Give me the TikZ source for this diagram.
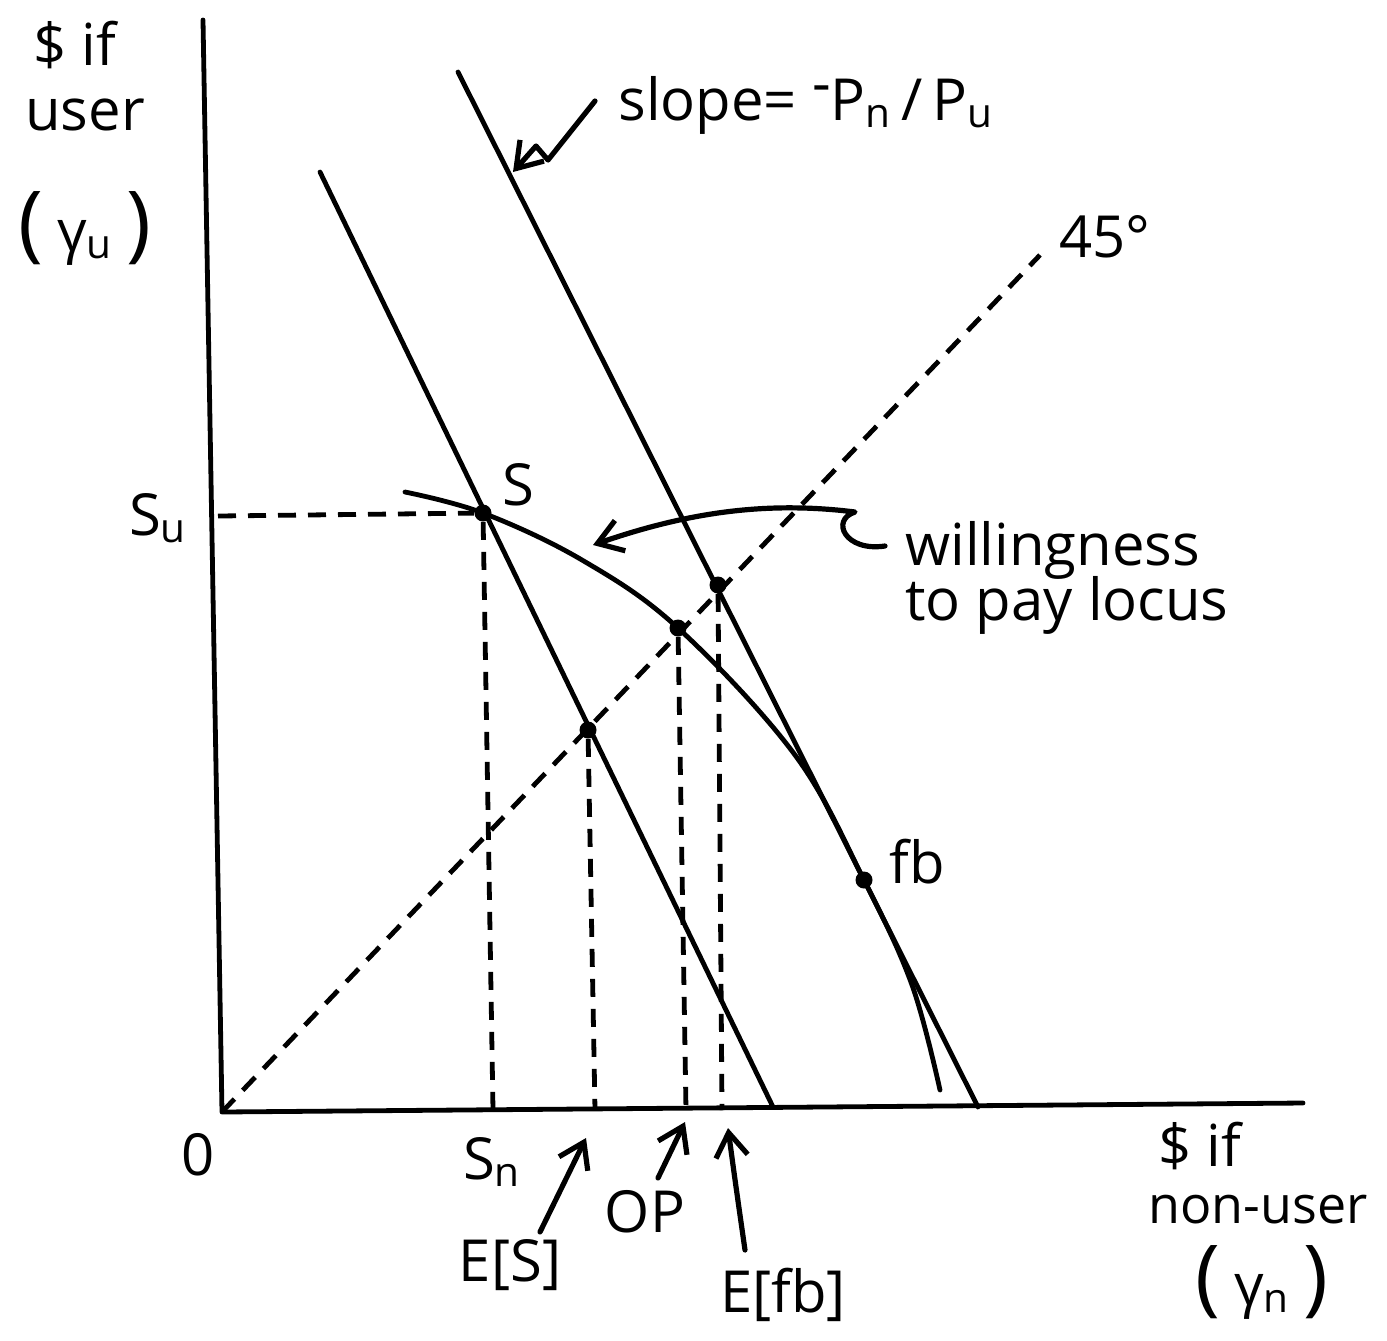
\documentclass[tikz,border=0pt]{standalone}
\usepackage{fontspec}
\setmainfont{Open Sans}
\usetikzlibrary{arrows.meta}
\begin{document}
\begin{tikzpicture}[x=0.5pt,y=-0.5pt,
  thick line/.style={line width=2.4pt, line cap=round, line join=round},
  dashline/.style={line width=2.4pt, dash pattern=on 9pt off 6pt},
  dot/.style={circle, fill=black, inner sep=0pt, minimum size=8.5pt},
  lbl/.style={font=\fontsize{29}{34}\selectfont, inner sep=0pt},
  pointer/.style={line width=2.6pt, line cap=round, line join=round, -{Straight Barb[length=12pt,width=16pt,line width=2.6pt]}}]
\useasboundingbox (0,0) rectangle (1387,1340);
% axes
\coordinate (O) at (222,1112);
\coordinate (Ytop) at (203,20);
\coordinate (Xend) at (1303,1103);
\draw[thick line] (Ytop) -- (O) -- (Xend);
% points
\node[dot] (S) at (483,513) {};
\node[dot] (ES) at (588,730) {};
\node[dot] (OPp) at (678,628) {};
\node[dot] (EFB) at (718,585) {};
\node[dot] (FB) at (864,880) {};
% budget lines
\coordinate (L1a) at (320,172);
\coordinate (L1b) at (773,1107);
\coordinate (L2a) at (458,72);
\coordinate (L2b) at (978,1107);
\draw[thick line] (L1a) -- (L1b);
\draw[thick line] (L2a) -- (L2b);
% 45 degree line
\coordinate (D) at (1040,255);
\draw[dashline] (O) -- (D);
% willingness to pay locus
\draw[thick line] plot[smooth, tension=0.6] coordinates {(405,492) (483,513) (582,560) (678,628) (795,755) (864,880) (912,985) (940,1090)};
% dashed projections
\coordinate (SuY) at (218,516);
\coordinate (Sn) at (493,1110);
\coordinate (ESx) at (595,1110);
\coordinate (OPx) at (686,1110);
\coordinate (EFBx) at (722,1110);
\draw[dashline] (SuY) -- (S);
\draw[dashline] (S) -- (Sn);
\draw[dashline] (ES) -- (ESx);
\draw[dashline] (OPp) -- (OPx);
\draw[dashline] (EFB) -- (EFBx);
% labels
\node[lbl] (yl1) at (75,45) {\$ if};
\node[lbl] (yl2) at (85,115) {user};
\node[lbl] (yl3) at (85,228) {\fontsize{42}{44}\selectfont(\,{\fontsize{29}{34}\selectfont γ\textsubscript{u}}\,)};
\node[lbl] (xl1) at (1200,1146) {\$ if};
\node[lbl, font=\fontsize{26}{30}\selectfont] (xl2) at (1258,1210) {non-user};
\node[lbl] (xl3) at (1262,1282) {\fontsize{42}{44}\selectfont(\,{\fontsize{29}{34}\selectfont γ\textsubscript{n}}\,)};
\node[lbl] (zero) at (198,1155) {0};
\node[lbl] (Sulbl) at (158,518) {S\textsubscript{u}};
\node[lbl] (Slbl) at (518,485) {S};
\node[lbl] (fblbl) at (917,862) {fb};
\node[lbl] (Snlbl) at (492,1162) {S\textsubscript{n}};
\node[lbl] (ESlbl) at (510,1265) {E[S]};
\node[lbl] (OPlbl) at (645,1212) {OP};
\node[lbl] (EFBlbl) at (783,1295) {E[fb]};
\node[lbl] (deg) at (1105,237) {45°};
\node[lbl, anchor=west] (slope) at (618,105) {slope= \raisebox{0.55ex}{-}P\textsubscript{n}\,/\,P\textsubscript{u}};
\node[lbl, anchor=west] (wtp1) at (905,550) {willingness};
\node[lbl, anchor=west] (wtp2) at (905,605) {to pay locus};
% pointers
\coordinate (ESa) at (540,1232);
\coordinate (ESb) at (586,1138);
\coordinate (OPa) at (658,1178);
\coordinate (OPb) at (685,1122);
\coordinate (EFa) at (745,1250);
\coordinate (EFb) at (728,1128);
\draw[pointer] (ESa) -- (ESb);
\draw[pointer] (OPa) -- (OPb);
\draw[pointer] (EFa) .. controls (735,1180) .. (EFb);
\coordinate (sq1) at (595,101);
\coordinate (sq2) at (548,160);
\coordinate (sq3) at (536,146);
\coordinate (sqtip) at (513,172);
\draw[pointer] (sq1) -- (sq2) -- (sq3) -- (sqtip);
\coordinate (wq1) at (885,546);
\coordinate (wtip) at (593,545);
\draw[pointer] (wq1) .. controls (845,552) and (830,520) .. (855,512) .. controls (760,500) and (680,515) .. (wtip);
\end{tikzpicture}
\end{document}
